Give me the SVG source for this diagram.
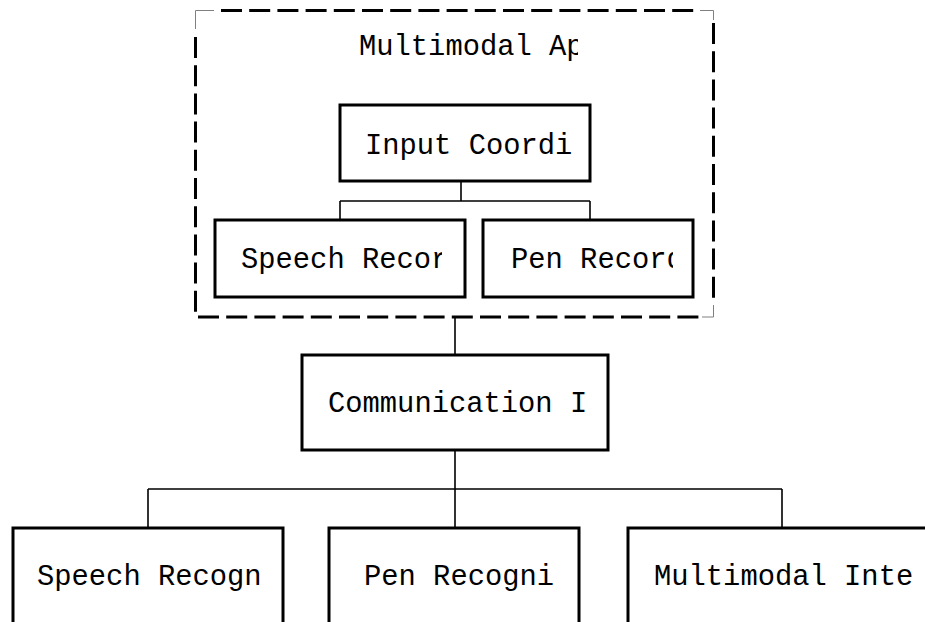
<svg xmlns="http://www.w3.org/2000/svg" width="925" height="622" viewBox="0 0 925 622">
  <style>
    .box { fill: #ffffff; stroke: #000000; stroke-width: 3; }
    .lbl { font-family: "Liberation Mono", "Courier New", monospace; font-size: 28.8px; fill: #000000; }
    .edge { fill: none; stroke: #000000; stroke-width: 1.6; }
    .dash { fill: none; stroke: #000000; stroke-width: 3; stroke-dasharray: 21 7.2; }
    .corner { fill: none; stroke: #808080; stroke-width: 1; }
  </style>
  <defs>
    <clipPath id="clip-frame"><rect x="340" y="20" width="238" height="50"/></clipPath>
    <clipPath id="clip-speech-rec"><rect x="220" y="230" width="222" height="60"/></clipPath>
    <clipPath id="clip-pen-rec"><rect x="490" y="230" width="183" height="60"/></clipPath>
  </defs>

  <rect width="925" height="622" fill="#ffffff"/>

  <!-- connectors -->
  <g id="connectors">
    <path class="edge" d="M461 181 V201 M340 201 H590 M340 201 V220 M590 201 V220"/>
    <path class="edge" d="M455 317 V355"/>
    <path class="edge" d="M455 450 V489 M148 489 H782 M148 489 V528 M455 489 V528 M782 489 V528"/>
  </g>

  <!-- dashed application frame -->
  <g id="multimodal-app">
    <path class="dash" d="M221 10.5 H700"/>
    <path class="dash" d="M198 317 H700"/>
    <path class="dash" d="M195.5 37 V317"/>
    <path class="dash" d="M713.5 23 V305"/>
    <path class="corner" d="M195.5 29 V10.5 H214"/>
    <path class="corner" d="M700 10.5 H713.5 V20"/>
    <path class="corner" d="M713.5 305 V317 H702"/>
    <text class="lbl" x="359" y="55" clip-path="url(#clip-frame)">Multimodal Ap</text>
  </g>

  <g id="input-coordinator">
    <rect class="box" x="340" y="105" width="250" height="76"/>
    <text class="lbl" x="365" y="154">Input Coordi</text>
  </g>

  <g id="speech-recorder">
    <rect class="box" x="215" y="220" width="250" height="77"/>
    <text class="lbl" x="241" y="268" clip-path="url(#clip-speech-rec)">Speech Recor</text>
  </g>

  <g id="pen-recorder">
    <rect class="box" x="483" y="220" width="210" height="77"/>
    <text class="lbl" x="511" y="268" clip-path="url(#clip-pen-rec)">Pen Record</text>
  </g>

  <g id="communication">
    <rect class="box" x="302" y="355" width="306" height="95"/>
    <text class="lbl" x="328" y="412">Communication I</text>
  </g>

  <g id="speech-recognizer">
    <rect class="box" x="13" y="528" width="270" height="120"/>
    <text class="lbl" x="37" y="585">Speech Recogn</text>
  </g>

  <g id="pen-recognizer">
    <rect class="box" x="329" y="528" width="250" height="120"/>
    <text class="lbl" x="364" y="585">Pen Recogni</text>
  </g>

  <g id="multimodal-integrator">
    <rect class="box" x="628" y="528" width="320" height="120"/>
    <text class="lbl" x="654" y="585">Multimodal Inte</text>
  </g>
</svg>
